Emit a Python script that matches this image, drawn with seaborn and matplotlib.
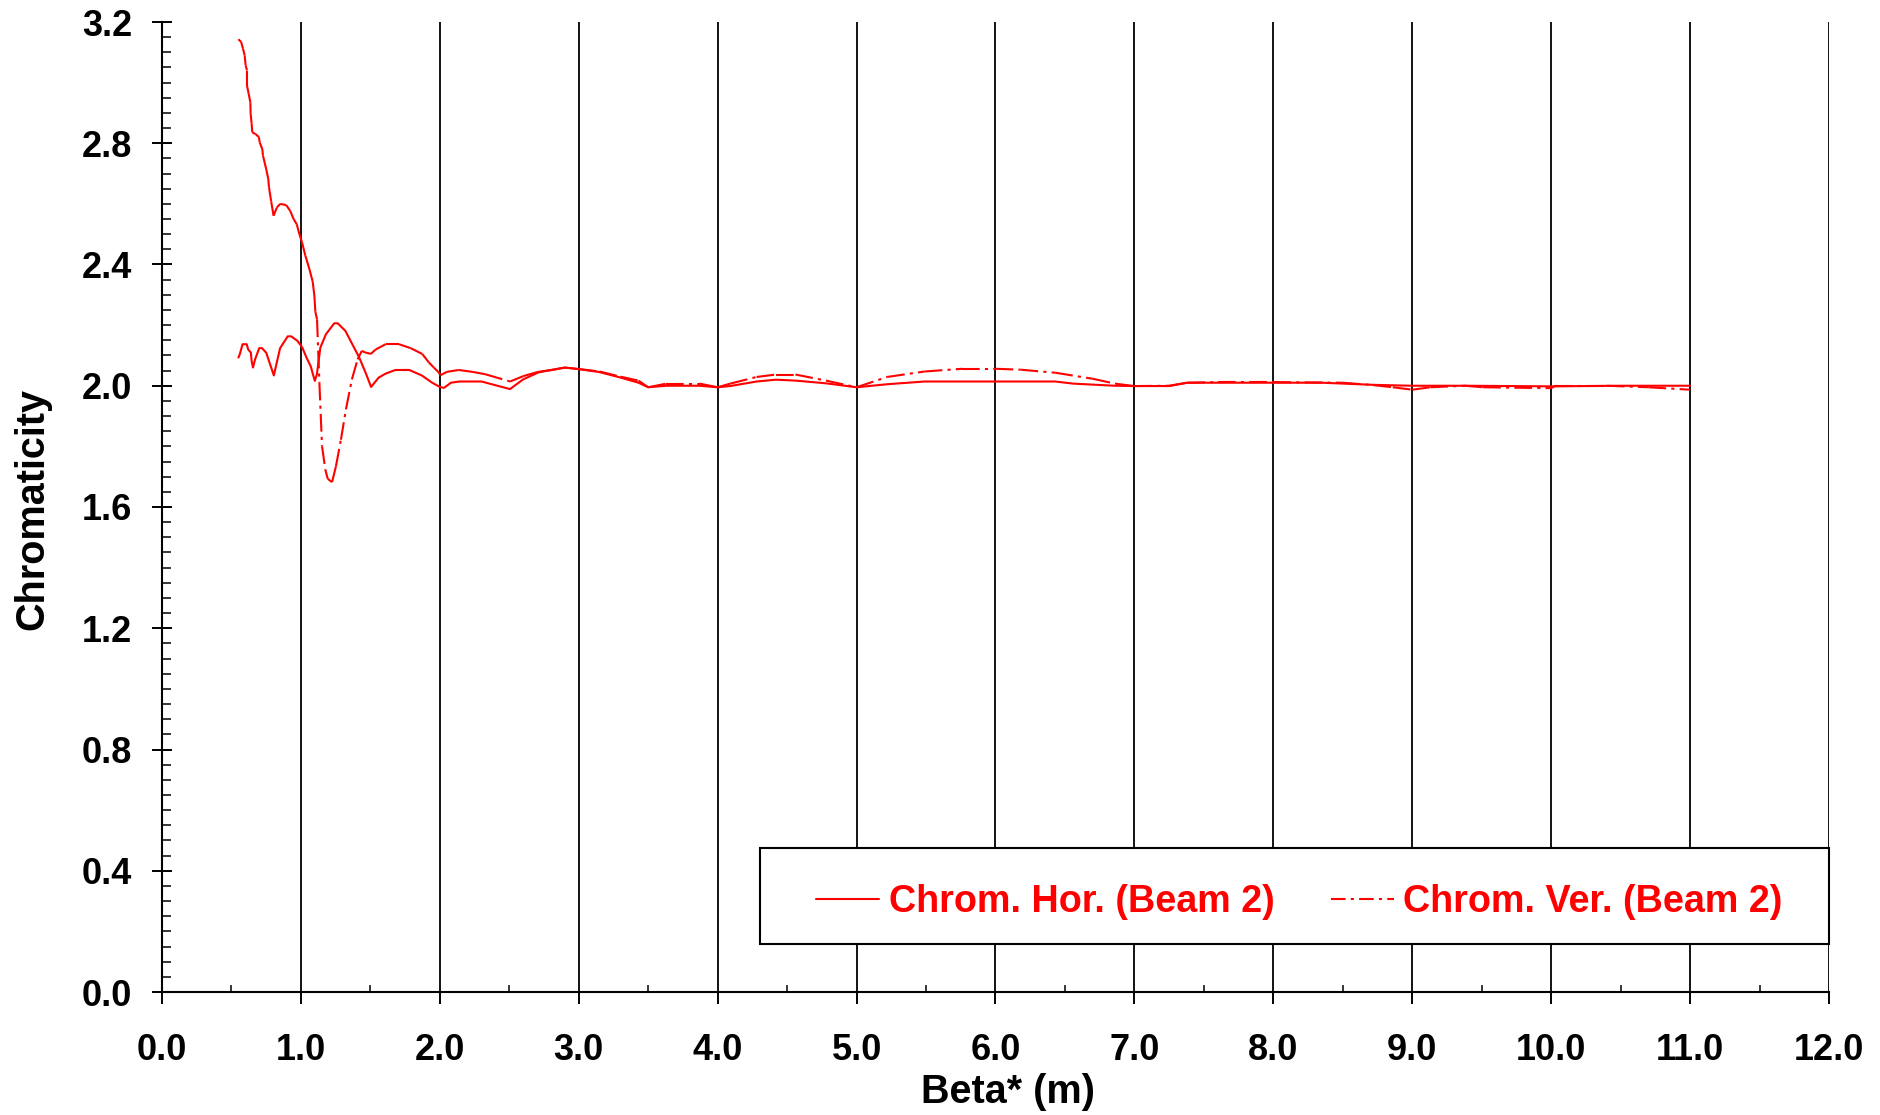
import numpy as np
import pandas as pd
import matplotlib
matplotlib.use("Agg")
import matplotlib.pyplot as plt
from matplotlib.lines import Line2D
from matplotlib.patches import Rectangle
from matplotlib.ticker import MultipleLocator, FormatStrFormatter
import seaborn as sns

# ---------------- data ----------------
hor_x = [0.55, 0.56, 0.58, 0.61, 0.62, 0.64, 0.645, 0.655, 0.67, 0.70, 0.72, 0.75, 0.77, 0.805,
         0.85, 0.905, 0.93, 0.975, 1.01, 1.04, 1.07, 1.10, 1.115, 1.14, 1.18, 1.24, 1.265, 1.32,
         1.37, 1.42, 1.47, 1.505, 1.56, 1.61, 1.68, 1.78, 1.87, 1.945, 2.0, 2.03, 2.08, 2.14,
         2.30, 2.505, 2.60, 2.71, 2.80, 2.90, 3.0, 3.15, 3.3, 3.43, 3.5, 3.63, 3.87, 4.0, 4.09,
         4.28, 4.42, 4.56, 4.78, 5.0, 5.22, 5.49, 6.0, 6.43, 6.56, 6.86, 7.0, 7.25, 7.38, 7.6,
         8.0, 8.35, 8.72, 9.0, 9.4, 10.0, 10.5, 11.0]
hor_y = [2.093, 2.104, 2.137, 2.137, 2.12, 2.109, 2.082, 2.06, 2.087, 2.124, 2.124, 2.109, 2.082,
         2.034, 2.124, 2.163, 2.163, 2.148, 2.126, 2.093, 2.065, 2.016, 2.038, 2.126, 2.17, 2.206,
         2.206, 2.181, 2.137, 2.093, 2.038, 1.996, 2.027, 2.04, 2.052, 2.052, 2.034, 2.01, 1.996,
         1.993, 2.01, 2.014, 2.014, 1.989, 2.021, 2.044, 2.052, 2.06, 2.055, 2.045, 2.027, 2.01,
         1.995, 2.0, 2.0, 1.995, 1.999, 2.014, 2.02, 2.017, 2.008, 1.995, 2.005, 2.014, 2.014,
         2.014, 2.007, 2.0, 1.999, 1.999, 2.01, 2.01, 2.01, 2.01, 2.003, 2.0, 2.0, 1.998, 2.0, 2.0]

ver_x = [0.55, 0.57, 0.583, 0.595, 0.602, 0.612, 0.612, 0.624, 0.636, 0.638, 0.645, 0.65, 0.674,
         0.698, 0.703, 0.722, 0.727, 0.75, 0.765, 0.77, 0.786, 0.803, 0.827, 0.851, 0.894, 0.923,
         0.947, 0.97, 0.989, 1.008, 1.032, 1.061, 1.085, 1.097, 1.104, 1.116, 1.133, 1.152, 1.176,
         1.193, 1.224, 1.252, 1.288, 1.324, 1.367, 1.408, 1.438, 1.462, 1.503, 1.539, 1.61, 1.706,
         1.79, 1.873, 1.921, 1.957, 1.988, 2.005, 2.052, 2.136, 2.232, 2.327, 2.506, 2.602, 2.71,
         2.805, 2.90, 3.0, 3.15, 3.3, 3.43, 3.5, 3.63, 3.87, 4.0, 4.09, 4.28, 4.42, 4.56, 4.78,
         5.0, 5.22, 5.49, 5.76, 6.0, 6.18, 6.43, 6.7, 6.86, 7.0, 7.25, 7.38, 7.6, 8.0, 8.5, 8.72,
         8.86, 9.0, 9.13, 9.38, 9.51, 10.0, 10.03, 10.4, 10.7, 11.0]
ver_y = [3.143, 3.134, 3.112, 3.09, 3.057, 3.04, 2.99, 2.963, 2.935, 2.897, 2.866, 2.836, 2.83,
         2.82, 2.803, 2.781, 2.759, 2.715, 2.682, 2.655, 2.608, 2.561, 2.588, 2.60, 2.596, 2.577,
         2.55, 2.533, 2.50, 2.473, 2.429, 2.385, 2.343, 2.296, 2.244, 2.219, 2.01, 1.80, 1.723,
         1.693, 1.682, 1.734, 1.822, 1.922, 2.021, 2.087, 2.115, 2.11, 2.105, 2.12, 2.137, 2.137,
         2.124, 2.105, 2.077, 2.06, 2.046, 2.035, 2.046, 2.052, 2.046, 2.038, 2.014, 2.032, 2.046,
         2.052, 2.06, 2.055, 2.047, 2.03, 2.017, 1.995, 2.007, 2.007, 1.995, 2.007, 2.029, 2.037,
         2.037, 2.017, 1.995, 2.029, 2.047, 2.056, 2.056, 2.053, 2.043, 2.023, 2.007, 1.999, 2.0,
         2.01, 2.012, 2.012, 2.01, 2.002, 1.995, 1.987, 1.995, 2.0, 1.995, 1.992, 2.0, 2.0, 1.995,
         1.987]

series_labels = ["Chrom. Hor. (Beam 2)", "Chrom. Ver. (Beam 2)"]
x_label = "Beta* (m)"
y_label = "Chromaticity"

# ---------------- style ----------------
sns.set_style("ticks")
plt.rcParams["font.family"] = ["Liberation Sans", "DejaVu Sans"]
plt.rcParams["font.weight"] = "bold"
plt.rcParams["text.color"] = "black"
plt.rcParams["axes.labelcolor"] = "black"

RED = "#FF0000"
LW = 1.5
DASHDOT = (8.5, 2.5, 1.5, 2.5)

fig = plt.figure(figsize=(18.81, 11.15), dpi=100)
ax = fig.add_axes([162 / 1881, 1 - 992 / 1115, (1829 - 162) / 1881, (992 - 22) / 1115])

# Horizontal chromaticity: solid line
df_h = pd.DataFrame({"x": hor_x, "y": hor_y})
sns.lineplot(data=df_h, x="x", y="y", ax=ax, color=RED, lw=LW, sort=False,
             estimator=None, legend=False)

# Vertical chromaticity: dash-dot, pattern restarting on every segment (spreadsheet-like)
seg_rows = []
for i in range(len(ver_x) - 1):
    seg_rows.append((i, ver_x[i], ver_y[i]))
    seg_rows.append((i, ver_x[i + 1], ver_y[i + 1]))
df_v = pd.DataFrame(seg_rows, columns=["seg", "x", "y"])
sns.lineplot(data=df_v, x="x", y="y", units="seg", estimator=None, ax=ax, color=RED,
             lw=LW, dashes=False, linestyle=(0, DASHDOT), sort=False, legend=False)

# axes
ax.set_xlim(0, 12)
ax.set_ylim(0, 3.2)
ax.xaxis.set_major_locator(MultipleLocator(1.0))
ax.xaxis.set_minor_locator(MultipleLocator(0.5))
ax.yaxis.set_major_locator(MultipleLocator(0.4))
ax.yaxis.set_minor_locator(MultipleLocator(0.05))
ax.xaxis.set_major_formatter(FormatStrFormatter("%.1f"))
ax.yaxis.set_major_formatter(FormatStrFormatter("%.1f"))

ax.grid(axis="x", which="major", color="black", lw=1.3)
ax.grid(axis="y", visible=False)
for s in ["top", "right"]:
    ax.spines[s].set_visible(False)
for s in ["left", "bottom"]:
    ax.spines[s].set_color("black")
    ax.spines[s].set_linewidth(1.5)

ax.tick_params(axis="y", which="major", direction="inout", length=14, width=1.4,
               pad=14.5, labelsize=26, colors="black")
ax.tick_params(axis="y", which="minor", direction="in", length=6.5, width=1.3)
ax.tick_params(axis="x", which="major", direction="out", length=8.6, width=1.4,
               pad=21, labelsize=26, colors="black")
ax.tick_params(axis="x", which="minor", direction="in", length=5, width=1.3)
for lab in ax.get_xticklabels() + ax.get_yticklabels():
    lab.set_fontweight("bold")

ax.set_xlabel(x_label, fontsize=28.5, fontweight="bold", color="black")
ax.set_ylabel(y_label, fontsize=28.5, fontweight="bold", color="black")
ax.xaxis.set_label_coords(0.5075, -0.084)
ax.yaxis.set_label_coords(-0.0665, 0.498)

# legend box
x0 = (760 - 162) / 1667
y0 = (992 - 944) / 970
w = 1.0 - x0
h = (944 - 848) / 970
ax.add_patch(Rectangle((x0, y0), w, h, transform=ax.transAxes, facecolor="white",
                       edgecolor="black", lw=1.5, zorder=5, clip_on=False))
handles = [Line2D([], [], color=RED, lw=LW),
           Line2D([], [], color=RED, lw=LW, linestyle=(0, (7, 2.5, 1.5, 2.5)))]
leg = ax.legend(handles, series_labels, loc="center",
                bbox_to_anchor=(x0 + 0.003, y0 - 0.006, w, h),
                ncol=2, frameon=False, handlelength=1.66, handletextpad=0.25,
                columnspacing=1.5, prop={"size": 27.2, "weight": "bold"},
                labelcolor=RED)
leg.set_zorder(6)

fig.savefig("out.png", dpi=100)
